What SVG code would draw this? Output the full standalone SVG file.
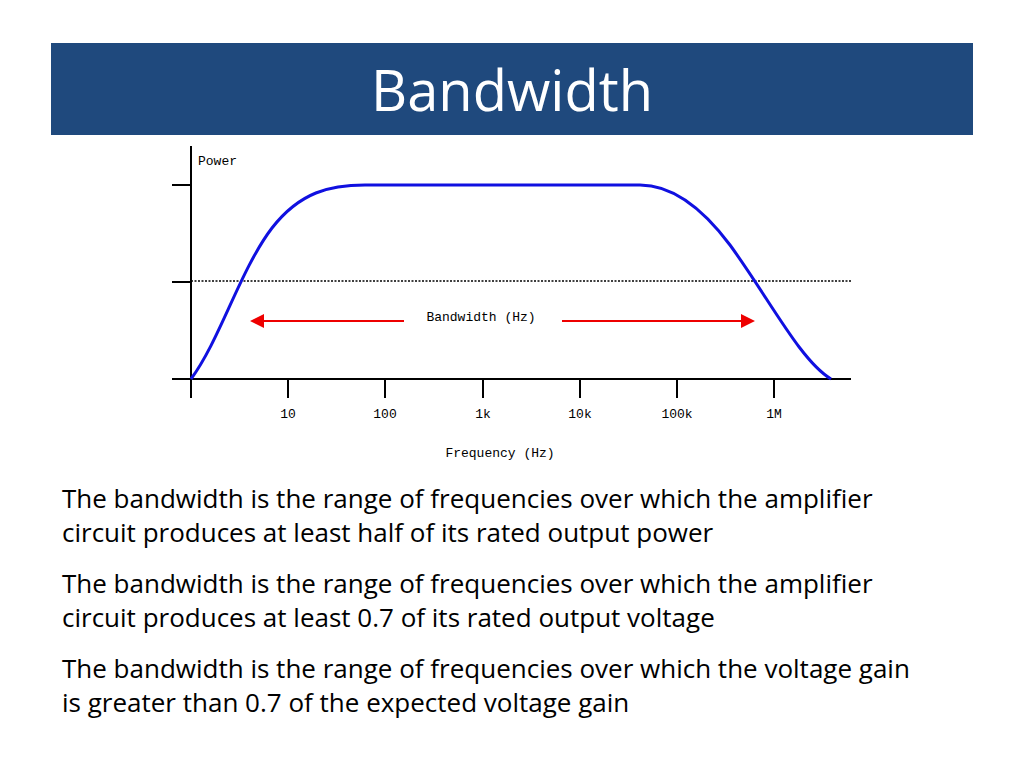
<svg xmlns="http://www.w3.org/2000/svg" width="1024" height="768" viewBox="0 0 1024 768">
<style>
.ax{stroke:#000;stroke-width:2;fill:none}
.mono{font-family:"Liberation Mono",monospace;font-size:13px;fill:#000}
.body{font-family:"Open Sans","Liberation Sans",sans-serif;font-size:26px;fill:#000}
.red{stroke:#e00;stroke-width:2;fill:none}
</style>
<rect width="1024" height="768" fill="#fff"/>
<g id="title">
<rect x="51" y="43" width="922" height="92" fill="#1f497d"/>
<text x="512" y="111" text-anchor="middle" font-family="Open Sans,Liberation Sans,sans-serif" font-size="56" fill="#fff">Bandwidth</text>
</g>
<g id="chart">
<path class="ax" d="M191,146V398M172,185H191M172,282H191M172,379H851M288,379V398M385,379V398M483,379V398M580,379V398M677,379V398M774,379V398"/>
<path d="M191,281H851" stroke="#000" stroke-width="1.5" stroke-dasharray="2,1.5"/>
<path d="M191,379C220,340 240,270 272,228C300,192 330,185 365,185L640,185C670,185 700,205 730,245C770,300 800,360 831,379" stroke="#1010e0" stroke-width="3" fill="none"/>
<text class="mono" x="198" y="165">Power</text>
<text class="mono" x="288" y="418" text-anchor="middle">10</text>
<text class="mono" x="385" y="418" text-anchor="middle">100</text>
<text class="mono" x="483" y="418" text-anchor="middle">1k</text>
<text class="mono" x="580" y="418" text-anchor="middle">10k</text>
<text class="mono" x="677" y="418" text-anchor="middle">100k</text>
<text class="mono" x="774" y="418" text-anchor="middle">1M</text>
<text class="mono" x="500" y="457" text-anchor="middle">Frequency (Hz)</text>
<text class="mono" x="481" y="321" text-anchor="middle">Bandwidth (Hz)</text>
</g>
<g id="connectors">
<path class="red" d="M262,321H404M562,321H742"/>
<path d="M250,321L264,314V328Z M755,321L741,314V328Z" fill="#e00"/>
</g>
<g id="text">
<text class="body" x="62" y="508">The bandwidth is the range of frequencies over which the amplifier</text>
<text class="body" x="62" y="542">circuit produces at least half of its rated output power</text>
<text class="body" x="62" y="593">The bandwidth is the range of frequencies over which the amplifier</text>
<text class="body" x="62" y="627">circuit produces at least 0.7 of its rated output voltage</text>
<text class="body" x="62" y="678">The bandwidth is the range of frequencies over which the voltage gain</text>
<text class="body" x="62" y="712">is greater than 0.7 of the expected voltage gain</text>
</g>
</svg>
